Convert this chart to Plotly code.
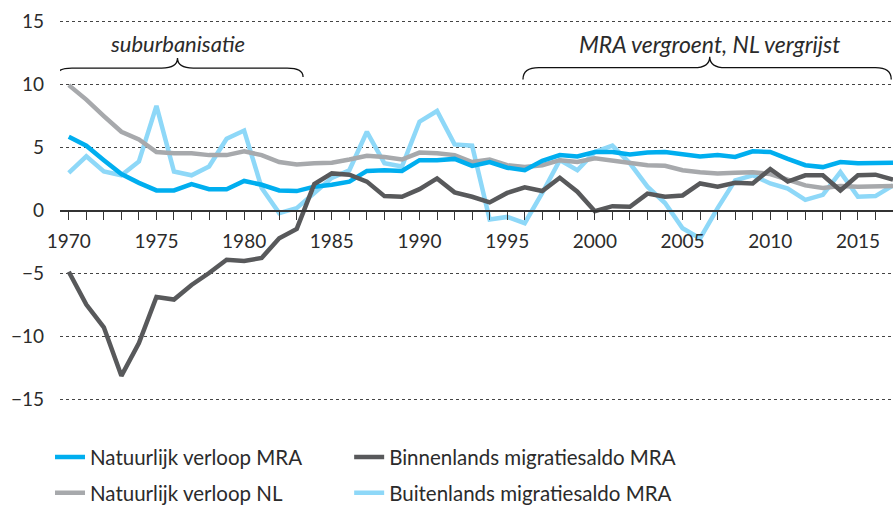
import plotly.graph_objects as go

years = list(range(1970, 2018))

natuurlijk_mra = [5.86, 5.15, 4.0, 2.9, 2.2, 1.6, 1.6, 2.1, 1.7, 1.7,
                  2.35, 2.05, 1.6, 1.55, 1.9, 2.05, 2.3, 3.15, 3.2, 3.15,
                  4.0, 4.0, 4.1, 3.55, 3.85, 3.4, 3.2, 3.95, 4.4, 4.3,
                  4.65, 4.65, 4.45, 4.6, 4.65, 4.5, 4.3, 4.4, 4.25, 4.7,
                  4.65, 4.1, 3.6, 3.45, 3.85, 3.75, 3.8, 3.8]

natuurlijk_nl = [9.95, 8.8, 7.5, 6.25, 5.65, 4.65, 4.55, 4.55, 4.4, 4.4,
                 4.7, 4.4, 3.85, 3.65, 3.75, 3.8, 4.05, 4.35, 4.25, 4.05,
                 4.6, 4.55, 4.4, 3.85, 4.05, 3.6, 3.45, 3.6, 4.0, 3.85,
                 4.15, 3.95, 3.75, 3.6, 3.55, 3.2, 3.05, 2.95, 3.0, 3.05,
                 2.9, 2.45, 2.0, 1.8, 1.95, 1.9, 1.9, 1.95]

binnenlands_mra = [-4.85, -7.45, -9.25, -13.1, -10.5, -6.85, -7.05, -5.9, -4.95, -3.9,
                   -4.0, -3.75, -2.2, -1.45, 2.1, 2.95, 2.85, 2.3, 1.15, 1.1,
                   1.7, 2.55, 1.45, 1.1, 0.65, 1.4, 1.85, 1.55, 2.6, 1.5,
                   -0.05, 0.35, 0.3, 1.35, 1.1, 1.2, 2.15, 1.9, 2.2, 2.15,
                   3.3, 2.3, 2.8, 2.8, 1.6, 2.8, 2.85, 2.45]

buitenlands_mra = [3.0, 4.3, 3.1, 2.8, 3.9, 8.3, 3.1, 2.8, 3.5, 5.7,
                   6.35, 1.8, -0.2, 0.2, 1.4, 2.6, 3.2, 6.25, 3.75, 3.5,
                   7.05, 7.9, 5.25, 5.15, -0.7, -0.5, -1.0, 1.4, 4.0, 3.2,
                   4.65, 5.15, 3.75, 1.9, 0.6, -1.4, -2.2, 0.2, 2.4, 2.8,
                   2.15, 1.75, 0.85, 1.25, 3.05, 1.1, 1.15, 2.0]

y_ticks = [-15, -10, -5, 0, 5, 10, 15]
x_ticks = [1970, 1975, 1980, 1985, 1990, 1995, 2000, 2005, 2010, 2015]

c_mra = "#00AEEF"
c_nl = "#A7A9AC"
c_bin = "#58595B"
c_bui = "#8ED8F8"
font_family = "Lato"
text_col = "#2b2b2b"

fig = go.Figure()
fig.add_trace(go.Scatter(x=years, y=buitenlands_mra, mode="lines", name="Buitenlands migratiesaldo MRA",
                         line=dict(color=c_bui, width=4.5), legend="legend2", legendrank=2,
                         legendgroup="bui"))
fig.add_trace(go.Scatter(x=years, y=natuurlijk_nl, mode="lines", name="Natuurlijk verloop NL",
                         line=dict(color=c_nl, width=4.5), legend="legend", legendrank=2,
                         legendgroup="nl"))
fig.add_trace(go.Scatter(x=years, y=natuurlijk_mra, mode="lines", name="Natuurlijk verloop MRA",
                         line=dict(color=c_mra, width=4.5), legend="legend", legendrank=1,
                         legendgroup="mra"))
fig.add_trace(go.Scatter(x=years, y=binnenlands_mra, mode="lines", name="Binnenlands migratiesaldo MRA",
                         line=dict(color=c_bin, width=4.5), legend="legend2", legendrank=1,
                         legendgroup="bin"))

y_lo, y_hi = -17, 16.7
zero_pos = (0 - y_lo) / (y_hi - y_lo)

leg_common = dict(xref="container", yref="container", xanchor="left", yanchor="top",
                  orientation="v", font=dict(size=20.5, color=text_col),
                  bgcolor="rgba(0,0,0,0)", itemwidth=30, tracegroupgap=6)

fig.update_layout(
    width=893, height=506,
    margin=dict(l=60, r=0, t=0, b=81, autoexpand=False),
    paper_bgcolor="white", plot_bgcolor="white",
    font=dict(family=font_family, size=19, color=text_col),
    xaxis=dict(range=[1969.5, 2017.0], tickmode="array", tickvals=x_ticks,
               anchor="free", position=zero_pos,
               showline=True, linecolor="#333333", linewidth=1.5,
               ticks="outside", ticklen=9, tickcolor="#333333", tickwidth=1.2,
               minor=dict(dtick=1, ticks="outside", ticklen=9, tickcolor="#333333", tickwidth=1.2),
               showgrid=False, zeroline=False, tickangle=0, automargin=False,
               ticklabelstandoff=5,
               tickfont=dict(size=19, color=text_col)),
    yaxis=dict(range=[y_lo, y_hi], tickmode="array", tickvals=y_ticks,
               showgrid=True, gridcolor="#444444", griddash="dot", gridwidth=1,
               zeroline=False, showline=False, ticks="", automargin=False,
               ticklabelstandoff=15,
               tickfont=dict(size=19, color=text_col)),
    legend=dict(x=0.056, y=0.136, **leg_common),
    legend2=dict(x=0.391, y=0.136, **leg_common),
    showlegend=True,
)


def brace(x0, xc, x1, y_end, y_h, y_tip, dx):
    return (f"M {x0},{y_end} Q {x0},{y_h} {x0 + dx},{y_h} "
            f"L {xc - dx},{y_h} Q {xc},{y_h} {xc},{y_tip} "
            f"Q {xc},{y_h} {xc + dx},{y_h} L {x1 - dx},{y_h} "
            f"Q {x1},{y_h} {x1},{y_end}")


fig.add_shape(type="path", xref="x", yref="y",
              path=brace(1969.28, 1976.2, 1983.36, 10.6, 11.3, 12.1, 0.9),
              line=dict(color="#111111", width=1.3))
fig.add_shape(type="path", xref="x", yref="y",
              path=brace(1995.9, 2006.55, 2016.9, 10.4, 11.33, 12.2, 0.9),
              line=dict(color="#111111", width=1.3))

fig.add_annotation(x=1976.2, y=13.25, xref="x", yref="y", text="<i>suburbanisatie</i>",
                   showarrow=False, font=dict(size=22, color=text_col))
fig.add_annotation(x=2006.55, y=13.25, xref="x", yref="y", text="<i>MRA vergroent, NL vergrijst</i>",
                   showarrow=False, font=dict(size=23, color=text_col))

fig.write_html("out.html", config={"displayModeBar": False},
               post_script="document.body.style.margin='0';document.body.style.overflow='hidden';")
